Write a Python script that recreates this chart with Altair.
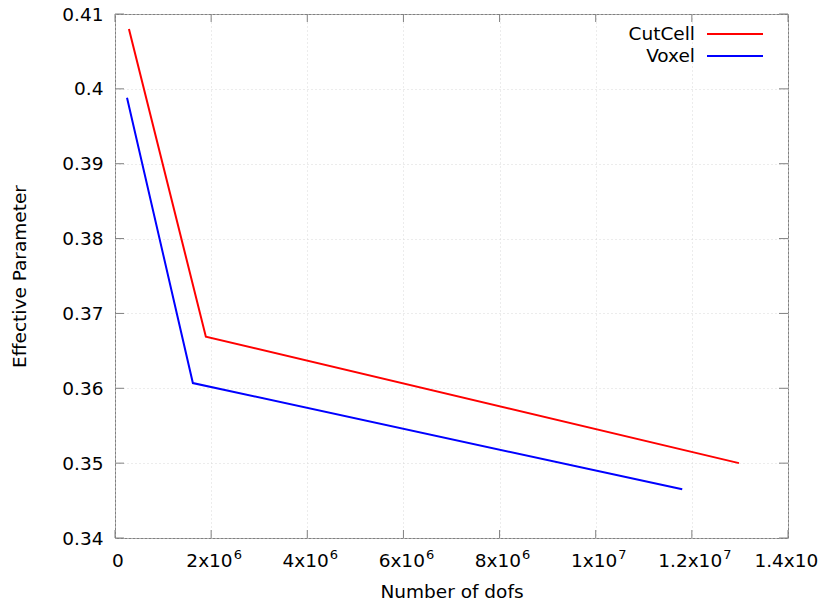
import altair as alt
import pandas as pd

series_names = ["CutCell", "Voxel"]
series_colors = ["#ff0000", "#0000ff"]

cutcell_x = [0.29e6, 1.89e6, 12.98e6]
cutcell_y = [0.408, 0.3669, 0.3500]
voxel_x = [0.25e6, 1.62e6, 11.8e6]
voxel_y = [0.3988, 0.3607, 0.3465]

x_ticks = [0, 2e6, 4e6, 6e6, 8e6, 1e7, 1.2e7, 1.4e7]
x_tick_bases = ["0", "2x10", "4x10", "6x10", "8x10", "1x10", "1.2x10", "1.4x10"]
x_tick_exps = ["", "6", "6", "6", "6", "7", "7", "7"]
y_ticks = [0.34, 0.35, 0.36, 0.37, 0.38, 0.39, 0.40, 0.41]
y_tick_labels = ["0.34", "0.35", "0.36", "0.37", "0.38", "0.39", "0.4", "0.41"]

W, H = 673, 524
FONT = "DejaVu Sans"
FS = 18.5
EXP_FS = 13

rows = []
for xs, ys, name in [(cutcell_x, cutcell_y, "CutCell"), (voxel_x, voxel_y, "Voxel")]:
    for i, (a, b) in enumerate(zip(xs, ys)):
        rows.append({"x": a, "y": b, "series": name, "order": i})
df = pd.DataFrame(rows)

def chain(vals, labels):
    expr = "''"
    for v, l in reversed(list(zip(vals, labels))):
        expr = f"abs(datum.value - {v!r}) < {abs(v) * 1e-6 + 1e-12!r} ? '{l}' : ({expr})"
    return expr

xscale = alt.Scale(domain=[0, 1.4e7], nice=False, zero=False)
yscale = alt.Scale(domain=[0.34, 0.41], nice=False, zero=False)

xaxis = alt.Axis(values=x_ticks, labels=False, title="Number of dofs",
                 grid=True, gridDash=[1, 3], gridColor="#d8d8d8", ticks=False, domain=False,
                 titlePadding=44, titleFontSize=FS,
                 titleColor="#000", titleFontWeight="normal")
yaxis = alt.Axis(values=y_ticks, labelExpr=chain(y_ticks, y_tick_labels), title="Effective Parameter",
                 grid=True, gridDash=[1, 3], gridColor="#d8d8d8", ticks=False, domain=False,
                 labelPadding=12, titlePadding=32, labelFontSize=FS, titleFontSize=FS,
                 labelColor="#000", titleColor="#000", titleFontWeight="normal", labelFlush=False)

lines = alt.Chart(df).mark_line(strokeWidth=2).encode(
    x=alt.X("x:Q", scale=xscale, axis=xaxis),
    y=alt.Y("y:Q", scale=yscale, axis=yaxis),
    color=alt.Color("series:N", scale=alt.Scale(domain=series_names, range=series_colors), legend=None),
    order="order:O",
)

xt = pd.DataFrame({"v": x_ticks})
yt = pd.DataFrame({"v": y_ticks})
tick_color = "#808080"
xb = alt.Chart(xt).mark_rule(color=tick_color).encode(x=alt.X("v:Q", scale=xscale), y=alt.value(H), y2=alt.value(H - 8))
xtop = alt.Chart(xt).mark_rule(color=tick_color).encode(x=alt.X("v:Q", scale=xscale), y=alt.value(0), y2=alt.value(8))
yl = alt.Chart(yt).mark_rule(color=tick_color).encode(y=alt.Y("v:Q", scale=yscale), x=alt.value(0), x2=alt.value(9))
yr = alt.Chart(yt).mark_rule(color=tick_color).encode(y=alt.Y("v:Q", scale=yscale), x=alt.value(W), x2=alt.value(W - 9))

# x tick labels with real superscript exponents
adv = {"0": .636, "1": .636, "2": .636, "3": .636, "4": .636, "5": .636, "6": .636,
       "7": .636, "8": .636, "9": .636, ".": .318, "x": .592}
def text_w(s, fs):
    return sum(adv.get(c, .6) for c in s) * fs

label_layers = []
for v, b, e in zip(x_ticks, x_tick_bases, x_tick_exps):
    bw = text_w(b, FS)
    ew = text_w(e, EXP_FS) + (1 if e else 0)
    right = -(bw + ew) / 2 + bw + 3
    ld = pd.DataFrame({"v": [v], "b": [b], "e": [e]})
    label_layers.append(alt.Chart(ld).mark_text(align="right", baseline="alphabetic", fontSize=FS,
                                                font=FONT, color="#000", dx=right)
                        .encode(x=alt.X("v:Q", scale=xscale), y=alt.value(H + 29), text="b:N"))
    if e:
        label_layers.append(alt.Chart(ld).mark_text(align="left", baseline="alphabetic", fontSize=EXP_FS,
                                                    font=FONT, color="#000", dx=right + 1)
                            .encode(x=alt.X("v:Q", scale=xscale), y=alt.value(H + 21), text="e:N"))

legend_layers = []
for i, (name, col) in enumerate(zip(series_names, series_colors)):
    ly = 20 + i * 22
    ld = pd.DataFrame({"s": [name]})
    legend_layers.append(alt.Chart(ld).mark_text(align="right", baseline="middle", fontSize=FS, font=FONT, color="#000")
                         .encode(text="s:N", x=alt.value(580), y=alt.value(ly)))
    legend_layers.append(alt.Chart(ld).mark_rule(color=col, strokeWidth=2)
                         .encode(x=alt.value(592), x2=alt.value(648), y=alt.value(ly)))

chart = alt.layer(lines, xb, xtop, yl, yr, *label_layers, *legend_layers).properties(
    width=W, height=H,
    autosize=alt.AutoSizeParams(type="none"),
    padding={"left": 107, "top": 6, "right": 31, "bottom": 60},
).configure(font=FONT).configure_view(stroke="#808080", strokeWidth=1)

chart.save("out.html", embed_options={"renderer": "svg", "actions": False})
